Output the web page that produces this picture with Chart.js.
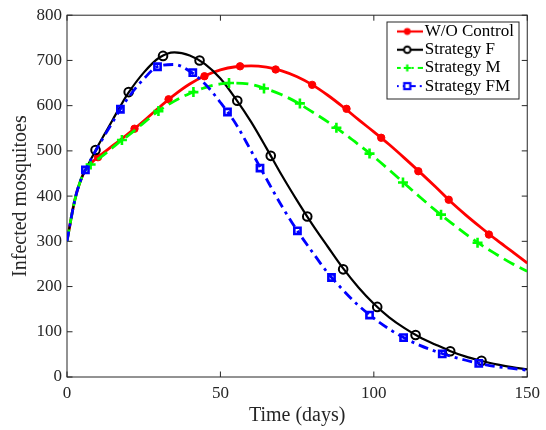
<!DOCTYPE html>
<html><head><meta charset="utf-8">
<script src="https://cdn.jsdelivr.net/npm/chart.js@4/dist/chart.umd.min.js"></script>
<style>html,body{margin:0;padding:0;background:#fff;}canvas{display:block;}</style>
</head><body>
<canvas id="c" width="546" height="430"></canvas>
<script>
// ---- data ----
const timeDays   = [0,1,2,3,4,5,6,7,8,10,12.5,15,17.5,20,25,30,35,40,45,50,55,60,65,70,75,80,85,90,95,100,105,110,115,120,125,130,135,140,145,150];
const woControl  = [300,338,374,404,426,444,458,467,474,486,499,512,525,538,566,596,624,648,666,679,686,688,685,677,664,646,623,597,569,542,514,484,453,421,388,358,330,303,278,252];
const strategyF  = [300,338,374,404,426,444,458,471,484,510,540,570,600,628,673,706,718,711,692,660,615,564,506,446,390,337,288,240,198,162,132,108,88,72,57,45,36,28,22,17];
const strategyM  = [300,338,374,404,426,444,457,465,471,481,494,508,522,534,562,589,610,627,640,648,650,647,637,624,607,586,564,540,514,487,458,428,398,369,342,316,292,271,251,234];
const strategyFM = [300,338,374,404,426,444,458,471,484,508,537,565,593,618,659,688,691,676,648,607,560,500,438,378,324,276,230,192,158,130,106,86,70,57,46,37,29,23,19,15];

const woMarkT  = [10.1,22,33.1,44.8,56.4,68,79.9,91.1,102.4,114.5,124.4,137.5];
const woMarkY  = [486,549,614,665,687,680,646,593,529,455,392,315];
const fMarkT   = [9.3,20.1,31.3,43.2,55.5,66.4,78.3,90,101.1,113.6,124.9,135.1];
const fMarkY   = [502,630,710,700,611,489,355,238,155,93,57,36];
const mMarkT   = [7.7,17.9,29.8,41.2,52.8,64.2,75.9,87.8,98.6,109.5,121.9,133.8];
const mMarkY   = [470,524,588,630,650,638,605,551,494,430,359,297];
const fmMarkT  = [6.0,17.4,29.5,41.0,52.3,62.9,75.1,86.2,98.6,109.7,122.3,134.2];
const fmMarkY  = [458,592,686,673,586,462,323,220,137,87,51,30];

const seriesNames = ['W/O Control','Strategy F','Strategy M','Strategy FM'];
const xTicks = [0,50,100,150];
const yTicks = [0,100,200,300,400,500,600,700,800];
const xTitle = 'Time (days)';
const yTitle = 'Infected mosquitoes';

// ---- styles ----
const AXIS = '#262626';
const styles = [
  {color:'#ff0000', width:2.8, dash:[], marker:'circle', r:3.7, mw:1, fill:'#ff0000'},
  {color:'#000000', width:2.2, dash:[], marker:'circle', r:4.3, mw:2, fill:'rgba(0,0,0,0)'},
  {color:'#00ff00', width:2.8, dash:[12,6], marker:'cross', r:5, mw:2.6, fill:'rgba(0,0,0,0)'},
  {color:'#0000ff', width:2.8, dash:[10,5,3,5], marker:'rect', r:4.4, mw:2.6, fill:'rgba(0,0,0,0)'}
];
const lineSets = [woControl, strategyF, strategyM, strategyFM];
const markT = [woMarkT, fMarkT, mMarkT, fmMarkT];
const markY = [woMarkY, fMarkY, mMarkY, fmMarkY];

Chart.defaults.font.family = "'Liberation Serif','Times New Roman',serif";

const datasets = [];
lineSets.forEach((vals, k) => {
  const s = styles[k];
  datasets.push({
    label: seriesNames[k],
    data: timeDays.map((t, i) => ({x: t, y: vals[i]})),
    borderColor: s.color, backgroundColor: s.color, borderWidth: s.width, borderDash: s.dash,
    pointRadius: 0, pointHoverRadius: 0, cubicInterpolationMode: 'monotone', fill: false,
    order: 8 - 2 * k
  });
  datasets.push({
    label: seriesNames[k] + ' markers',
    data: markT[k].map((t, i) => ({x: t, y: markY[k][i]})),
    showLine: false, pointStyle: s.marker, pointRadius: s.r, pointHoverRadius: s.r,
    pointBorderWidth: s.mw, pointBorderColor: s.color, pointBackgroundColor: s.fill,
    borderColor: s.color, backgroundColor: s.fill,
    order: 7 - 2 * k
  });
});

function legendIcon(s) {
  const c = document.createElement('canvas');
  c.width = 31; c.height = 12;
  const g = c.getContext('2d');
  g.strokeStyle = s.color; g.fillStyle = s.color; g.lineWidth = 2.2;
  g.setLineDash(s.dash.length ? (s.dash.length === 2 ? [9, 4] : [7, 4, 2, 4]) : []);
  g.beginPath(); g.moveTo(0, 6); g.lineTo(31, 6); g.stroke();
  g.setLineDash([]);
  const cx = 15.5, cy = 6;
  if (s.marker === 'circle' && s.mw === 1) {
    g.beginPath(); g.arc(cx, cy, 3.4, 0, Math.PI * 2); g.fill();
  } else if (s.marker === 'circle') {
    g.fillStyle = '#fff'; g.lineWidth = 2;
    g.beginPath(); g.arc(cx, cy, 3.3, 0, Math.PI * 2); g.fill(); g.stroke();
  } else if (s.marker === 'cross') {
    g.lineWidth = 2.2; g.fillStyle = '#fff'; g.fillRect(cx - 4, cy - 4, 8, 8);
    g.beginPath(); g.moveTo(cx - 3.5, cy); g.lineTo(cx + 3.5, cy); g.moveTo(cx, cy - 3.5); g.lineTo(cx, cy + 3.5); g.stroke();
  } else {
    g.lineWidth = 2.2; g.fillStyle = '#fff';
    g.fillRect(cx - 3, cy - 3, 6, 6); g.strokeRect(cx - 3, cy - 3, 6, 6);
  }
  return c;
}
const legendItems = styles.map((s, k) => ({
  text: seriesNames[k], pointStyle: legendIcon(s), datasetIndex: 2 * k,
  fontColor: '#000', fillStyle: s.color, strokeStyle: s.color, lineWidth: 0,
  hidden: false, textAlign: 'left'
}));

const LEG = {left: 397, top: 21.8, boxL: 387, boxT: 22, boxW: 132, boxH: 77};

const matlabAxes = {
  id: 'matlabAxes',
  afterLayout(chart) {
    const lg = chart.legend;
    if (lg) {
      lg.left = LEG.left; lg.top = LEG.top;
      lg.right = LEG.left + 140; lg.bottom = LEG.top + 200;
      lg.width = 140; lg.height = 200;
    }
  },
  beforeDraw(chart) {
    const ctx = chart.ctx;
    ctx.save();
    ctx.fillStyle = '#fff';
    ctx.fillRect(LEG.boxL, LEG.boxT, LEG.boxW, LEG.boxH);
    ctx.strokeStyle = AXIS; ctx.lineWidth = 1;
    ctx.strokeRect(LEG.boxL, LEG.boxT, LEG.boxW, LEG.boxH);
    ctx.restore();
  },
  beforeDatasetsDraw(chart) {
    const {ctx, chartArea: a, scales: {x, y}} = chart;
    ctx.save();
    ctx.strokeStyle = AXIS; ctx.lineWidth = 1;
    ctx.strokeRect(a.left, a.top, a.right - a.left, a.bottom - a.top);
    const L = 5.5;
    ctx.beginPath();
    xTicks.forEach(v => {
      const px = x.getPixelForValue(v);
      ctx.moveTo(px, a.bottom); ctx.lineTo(px, a.bottom - L);
      ctx.moveTo(px, a.top); ctx.lineTo(px, a.top + L);
    });
    yTicks.forEach(v => {
      const py = y.getPixelForValue(v);
      ctx.moveTo(a.left, py); ctx.lineTo(a.left + L, py);
      ctx.moveTo(a.right, py); ctx.lineTo(a.right - L, py);
    });
    ctx.stroke();
    ctx.restore();
  }
};

new Chart(document.getElementById('c'), {
  type: 'line',
  data: {datasets},
  plugins: [matlabAxes],
  options: {
    responsive: false, animation: false,
    layout: {padding: {left: 0, top: 14, right: 18, bottom: 0}},
    plugins: {
      tooltip: {enabled: false},
      legend: {
        position: 'chartArea', align: 'start',
        labels: {
          usePointStyle: true, pointStyleWidth: 18, padding: 1.2,
          font: {size: 17}, color: '#000',
          generateLabels: () => legendItems
        }
      }
    },
    scales: {
      x: {
        type: 'linear', min: 0, max: 150,
        afterBuildTicks: s => { s.ticks = xTicks.map(v => ({value: v})); },
        afterFit: s => { s.height = 53; },
        grid: {display: false, drawTicks: false}, border: {display: false},
        ticks: {padding: 6, color: AXIS, font: {size: 17}, maxRotation: 0, autoSkip: false},
        title: {display: true, text: xTitle, color: AXIS, font: {size: 20}, padding: {top: 0, bottom: 2}}
      },
      y: {
        type: 'linear', min: 0, max: 800,
        afterBuildTicks: s => { s.ticks = yTicks.map(v => ({value: v})); },
        afterFit: s => { s.width = 67; },
        grid: {display: false, drawTicks: false}, border: {display: false},
        ticks: {padding: 5, color: AXIS, font: {size: 17}, autoSkip: false},
        title: {display: true, text: yTitle, color: AXIS, font: {size: 20}, padding: {top: 9, bottom: 0}}
      }
    }
  }
});
</script>
</body></html>
